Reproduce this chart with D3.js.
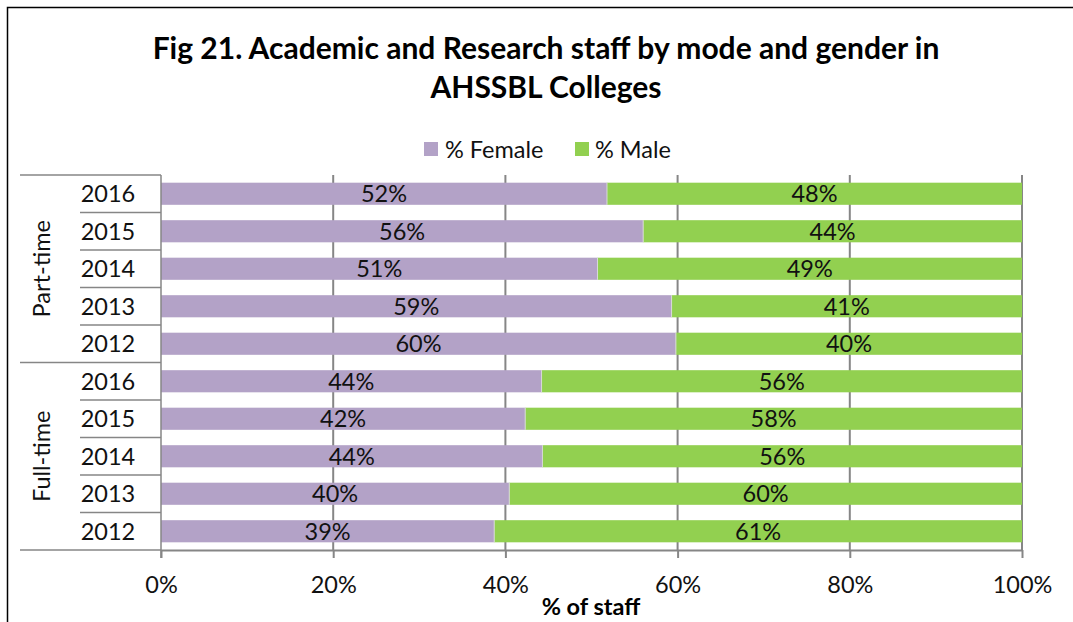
<!DOCTYPE html>
<html><head><meta charset="utf-8">
<script src="https://cdn.jsdelivr.net/npm/d3@7"></script>
<style>body{margin:0;background:#fff}svg{display:block}text{font-family:Lato,"Open Sans",sans-serif}</style>
</head><body><svg id="c" width="1073" height="622"></svg>
<script>
const groups = ["Part-time", "Full-time"];
const years = ["2016", "2015", "2014", "2013", "2012"];
const female = [0.518, 0.560, 0.507, 0.593, 0.598, 0.442, 0.423, 0.443, 0.4045, 0.387];
const male = female.map(f => 1 - f);
const xTicks = [0, 0.2, 0.4, 0.6, 0.8, 1];
const seriesNames = ["% Female", "% Male"];
const colors = ["#B3A2C7", "#92D050"];

const rows = [];
groups.forEach((g, gi) => years.forEach((y, yi) => rows.push({key: g + "|" + y, group: g, year: y, f: female[gi * 5 + yi], m: male[gi * 5 + yi]})));

const svg = d3.select("#c");
svg.append("rect").attr("x", 7.5).attr("y", 7.5).attr("width", 1100).attr("height", 700).attr("fill", "#fff").attr("stroke", "#000").attr("stroke-width", 1.5);

const L = 161, R = 1022, T = 175, B = 550;
const x = d3.scaleLinear().domain([0, 1]).range([L, R]);
const y = d3.scaleBand().domain(rows.map(r => r.key)).range([T, B]).paddingInner(0.41).paddingOuter(0.205);
const FS = 23.5;

// title
svg.append("text").attr("x", 546).attr("y", 59).attr("text-anchor", "middle").attr("font-weight", "bold").attr("font-size", 30).text("Fig 21. Academic and Research staff by mode and gender in");
svg.append("text").attr("x", 546).attr("y", 98).attr("text-anchor", "middle").attr("font-weight", "bold").attr("font-size", 30).text("AHSSBL Colleges");

// legend
const leg = [{x: 424, tx: 445}, {x: 575, tx: 595}];
seriesNames.forEach((s, i) => {
  svg.append("rect").attr("x", leg[i].x).attr("y", 142).attr("width", 14).attr("height", 14).attr("fill", colors[i]);
  svg.append("text").attr("x", leg[i].tx).attr("y", 158).attr("font-size", FS).attr("fill", "#111").text(s);
});

// gridlines
svg.append("g").selectAll("line").data(xTicks.slice(1)).join("line")
  .attr("x1", d => x(d)).attr("x2", d => x(d)).attr("y1", T).attr("y2", B)
  .attr("stroke", "#868686").attr("stroke-width", 2);

// bars
const bars = svg.append("g");
bars.selectAll(".f").data(rows).join("rect").attr("x", x(0)).attr("y", d => y(d.key)).attr("width", d => x(d.f) - x(0)).attr("height", y.bandwidth()).attr("fill", colors[0]);
bars.selectAll(".m").data(rows).join("rect").attr("x", d => x(d.f)).attr("y", d => y(d.key)).attr("width", d => x(1) - x(d.f)).attr("height", y.bandwidth()).attr("fill", colors[1]);
bars.selectAll(".s").data(rows).join("line").attr("x1", d => x(d.f)).attr("x2", d => x(d.f)).attr("y1", d => y(d.key)).attr("y2", d => y(d.key) + y.bandwidth()).attr("stroke", "#d8d8d8").attr("stroke-width", 1);

const fmt = d3.format(".0%");
const lab = svg.append("g").attr("font-size", FS).attr("fill", "#111").attr("text-anchor", "middle");
lab.selectAll(".lf").data(rows).join("text").attr("x", d => (x(0) + x(d.f)) / 2).attr("y", d => y(d.key) + y.bandwidth() / 2 + 8.5).text(d => fmt(d.f));
lab.selectAll(".lm").data(rows).join("text").attr("x", d => (x(d.f) + x(1)) / 2).attr("y", d => y(d.key) + y.bandwidth() / 2 + 8.5).text(d => fmt(d.m));

// x axis
const xa = svg.append("g").attr("transform", `translate(0,${B})`).call(d3.axisBottom(x).tickValues(xTicks).tickFormat(d3.format(".0%")).tickSize(8).tickPadding(18));
xa.select(".domain").attr("stroke", "#868686").attr("stroke-width", 2).attr("d", `M${L},0.5H${R}`);
xa.selectAll(".tick line").attr("stroke", "#868686").attr("stroke-width", 2);
xa.selectAll(".tick text").attr("font-size", FS).attr("fill", "#111").attr("font-family", "Lato");
svg.append("text").attr("x", 591).attr("y", 615).attr("text-anchor", "middle").attr("font-weight", "bold").attr("font-size", FS).text("% of staff");

// category axis
const step = (B - T) / rows.length;
const ca = svg.append("g").attr("stroke", "#868686").attr("stroke-width", 1.5);
ca.append("line").attr("x1", L).attr("x2", L).attr("y1", T).attr("y2", B + 8);
d3.range(rows.length + 1).forEach(i => {
  const yy = T + i * step;
  const full = (i % 5 === 0);
  ca.append("line").attr("x1", full ? 20 : 80).attr("x2", L).attr("y1", yy).attr("y2", yy);
});
svg.append("g").selectAll("text").data(rows).join("text")
  .attr("x", 108).attr("y", d => y(d.key) + y.bandwidth() / 2 + 8.5).attr("text-anchor", "middle").attr("font-size", FS).attr("fill", "#111").text(d => d.year);
groups.forEach((g, gi) => {
  const cy = T + (gi * 5 + 2.5) * step;
  svg.append("text").attr("transform", `translate(50,${cy}) rotate(-90)`).attr("text-anchor", "middle").attr("font-size", FS).attr("fill", "#111").text(g);
});
</script></body></html>
